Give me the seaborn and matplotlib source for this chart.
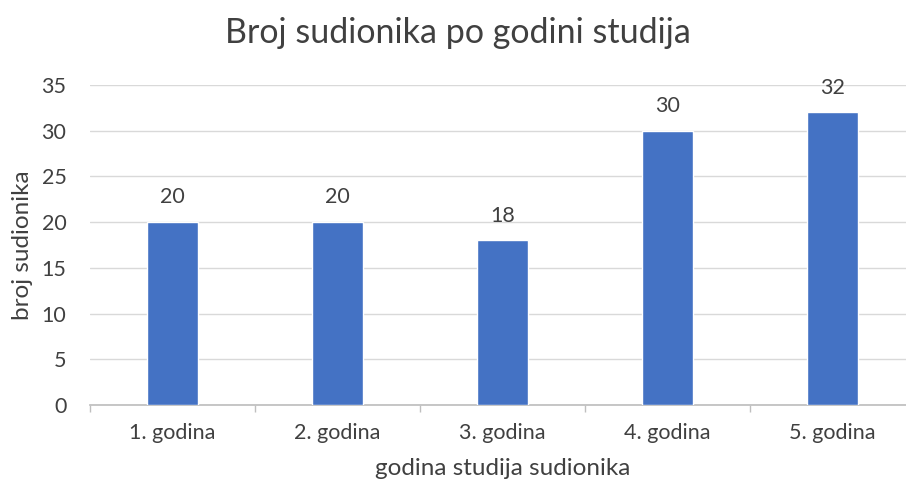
import matplotlib
matplotlib.use("Agg")
import matplotlib.pyplot as plt
import seaborn as sns
import numpy as np
import pandas as pd

godine = ["1. godina", "2. godina", "3. godina", "4. godina", "5. godina"]
broj = [20, 20, 18, 30, 32]

sns.set_theme(style="white")
plt.rcParams['font.family'] = ['Lato', 'DejaVu Sans']

TXT = '#404040'
df = pd.DataFrame({'godina': godine, 'broj': broj})

fig = plt.figure(figsize=(9.06, 4.88), dpi=100)
ax = fig.add_axes([90 / 906, 0.170, 825 / 906, 0.656])
sns.barplot(data=df, x='godina', y='broj', color='#4472C4', width=0.315,
            saturation=1, ax=ax, zorder=3)

ax.set_ylim(0, 35)
ax.set_xlim(-0.5, 4.5)
ax.set_yticks(range(0, 36, 5))
ax.yaxis.grid(True, color='#d9d9d9', linewidth=1, zorder=0)
for s in ['top', 'right', 'left']:
    ax.spines[s].set_visible(False)
ax.spines['bottom'].set_color('#bfbfbf')
ax.tick_params(axis='y', length=0, labelsize=15.5, colors=TXT, pad=17)
ax.tick_params(axis='x', length=0, labelsize=15.5, colors=TXT, pad=13)
# male crtice izmedu kategorija
ax.set_xticks(np.arange(-0.5, 5, 1), minor=True)
ax.tick_params(axis='x', which='minor', bottom=True, length=5, width=1,
               color='#bfbfbf', direction='out')

for i, v in enumerate(broj):
    ax.text(i, v + 1.6, str(v), ha='center', va='bottom', fontsize=15.5, color=TXT)

ax.set_xlabel('godina studija sudionika', fontsize=17.5, color=TXT, labelpad=11)
ax.set_ylabel('broj sudionika', fontsize=17.5, color=TXT, labelpad=6)
fig.text(458 / 906, 1 - 33 / 488, 'Broj sudionika po godini studija',
         fontsize=24.5, color=TXT, ha='center', va='center')

fig.savefig('out.png', dpi=100)
